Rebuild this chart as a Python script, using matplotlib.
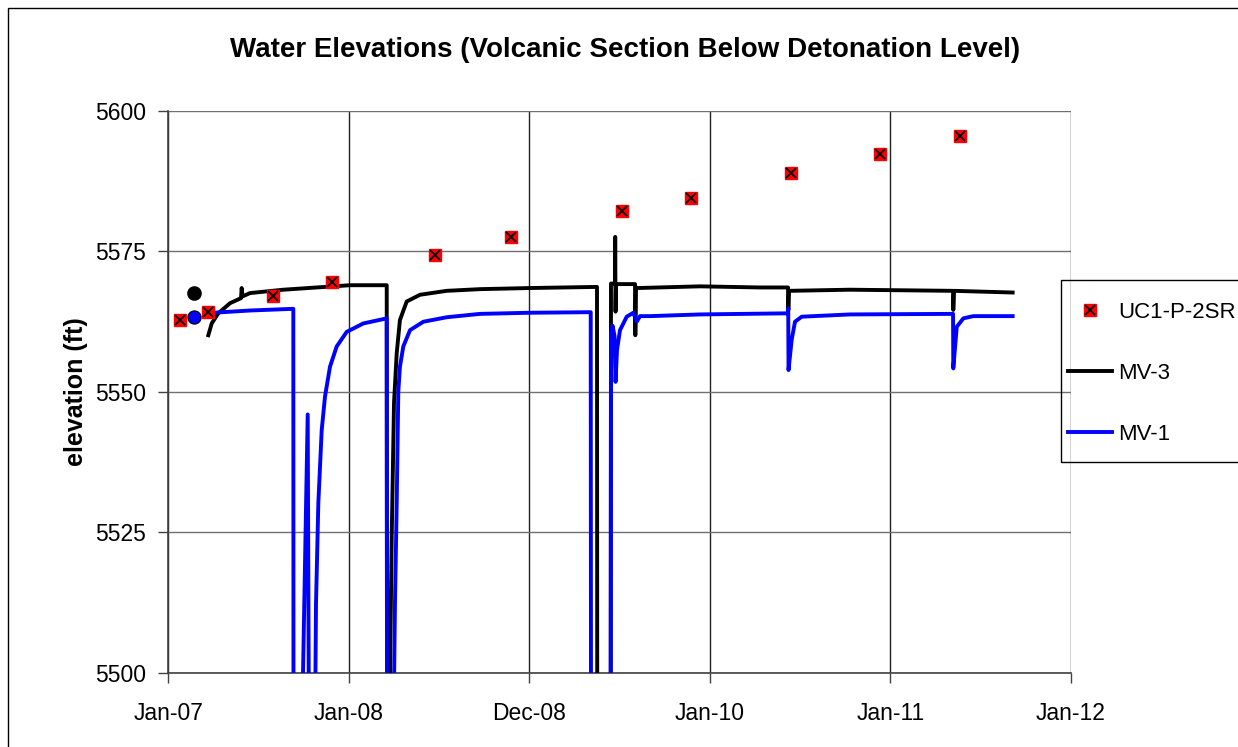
import matplotlib
matplotlib.use("Agg")
import numpy as np
import matplotlib.pyplot as plt
import matplotlib.dates as mdates
from datetime import datetime
from matplotlib.legend_handler import HandlerTuple
from matplotlib.patches import Rectangle

plt.rcParams['font.family'] = ['Liberation Sans', 'DejaVu Sans']

# x values are days after 1 Jan 2007
base = mdates.date2num(datetime(2007, 1, 1))

tick_days = [0, 365, 730, 1095, 1460, 1825]
tick_labels = ["Jan-07", "Jan-08", "Dec-08", "Jan-10", "Jan-11", "Jan-12"]

uc1_days = [23, 79, 212, 330, 539, 693, 917, 1057, 1259, 1439, 1601]
uc1_elev = [5562.8, 5564.3, 5567.1, 5569.5, 5574.4, 5577.6, 5582.2, 5584.5,
            5589.0, 5592.3, 5595.6]

# MV-3 transducer record (values under 5500 are off the axis)
mv3_days = [80.5, 87.4, 100.7, 124.4, 146.6, 148.0, 149.6, 164.8, 232.2, 299.7,
            367.0, 441.3, 441.9, 446.5, 451.4, 456.0, 461.5, 468.0, 481.7, 508.6,
            562.6, 630.0, 731.0, 866.5, 867.0, 894.2, 894.8, 902.9, 903.3, 904.0,
            905.0, 943.4, 944.0, 945.4, 949.4, 1074.8, 1196.0, 1252.8, 1253.4,
            1254.8, 1378.0, 1586.5, 1587.0, 1588.5, 1707.0]
mv3_elev = [5560.1, 5562.2, 5564.0, 5565.8, 5566.7, 5568.5, 5567.0, 5567.6, 5568.2, 5568.6,
            5569.0, 5569.0, 5490.0, 5490.0, 5524.3, 5548.0, 5556.9, 5562.8, 5566.1, 5567.3,
            5568.0, 5568.3, 5568.5, 5568.7, 5490.0, 5490.0, 5569.3, 5569.3, 5577.6, 5564.3,
            5569.2, 5569.2, 5560.1, 5568.6, 5568.5, 5568.8, 5568.6, 5568.6, 5564.6,
            5568.0, 5568.2, 5568.0, 5564.6, 5568.0, 5567.7]

# MV-1 transducer record
mv1_days = [77.9, 90.6, 164.8, 252.4, 252.8, 270.0, 281.5, 284.0, 296.3, 298.3,
            303.0, 309.8, 316.5, 326.6, 340.1, 360.4, 394.0, 441.3, 441.9, 455.0,
            458.0, 461.5, 464.7, 468.0, 474.8, 488.4, 515.3, 562.6, 630.0, 731.0,
            853.8, 854.4, 894.2, 894.8, 897.9, 901.9, 904.0, 907.0, 913.0, 926.6,
            940.0, 946.8, 953.5, 973.7, 1074.8, 1252.8, 1253.2, 1253.8, 1260.2, 1266.9,
            1280.5, 1378.0, 1586.5, 1587.0, 1594.0, 1607.3, 1627.5, 1707.0]
mv1_elev = [5564.2, 5564.1, 5564.5, 5564.8, 5490.0, 5490.0, 5546.0, 5490.0, 5490.0, 5512.4,
            5530.2, 5543.2, 5549.2, 5554.5, 5558.1, 5560.7, 5562.2, 5563.1, 5490.0, 5490.0,
            5512.5, 5530.2, 5550.0, 5554.5, 5558.1, 5561.0, 5562.5, 5563.3, 5563.9, 5564.1,
            5564.2, 5490.0, 5490.0, 5560.4, 5561.8, 5560.0, 5551.8, 5557.5, 5561.0, 5563.4,
            5564.1, 5562.5, 5563.5, 5563.5, 5563.8, 5564.0, 5564.9, 5553.9, 5559.3, 5562.5,
            5563.4, 5563.8, 5563.9, 5554.2, 5561.6, 5563.1, 5563.5, 5563.5]

# single early readings
mv3_pt_days, mv3_pt_elev = [52], [5567.7]
mv1_pt_days, mv1_pt_elev = [52], [5563.4]

fig = plt.figure(figsize=(12.38, 7.47), dpi=100)
ax = fig.add_axes([0.1361, 0.0991, 0.7290, 0.7523])

l3, = ax.plot(base + np.array(mv3_days), mv3_elev, color="black", lw=2.8, zorder=3)
l1, = ax.plot(base + np.array(mv1_days), mv1_elev, color="#0000ff", lw=2.8, zorder=3)
ax.plot(base + np.array(mv3_pt_days), mv3_pt_elev, "o", color="black", ms=9.5, zorder=4)
ax.plot(base + np.array(mv1_pt_days), mv1_pt_elev, "o", color="#0000ff", mec="black",
        mew=0.8, ms=9.5, zorder=4)
sq, = ax.plot(base + np.array(uc1_days), uc1_elev, "s", color="red", ms=8, mec="red",
              ls="none", zorder=5)
xm, = ax.plot(base + np.array(uc1_days), uc1_elev, "x", color="black", ms=7, mew=1.3,
              ls="none", zorder=6)

ax.set_xlim(base, base + 1825)
ax.set_ylim(5500, 5600)
ax.set_xticks([base + d for d in tick_days])
ax.set_xticklabels(tick_labels)
ax.set_yticks([5500, 5525, 5550, 5575, 5600])
ax.tick_params(labelsize=16.5, length=7, width=1, color="#404040", direction="out")
ax.tick_params(axis="x", pad=14)
ax.tick_params(axis="y", pad=9)

ax.grid(axis="y", color="#707070", lw=1)
ax.grid(axis="x", color="#202020", lw=1)
ax.set_axisbelow(True)
for s in ["top", "right"]:
    ax.spines[s].set_visible(False)
for s in ["left", "bottom"]:
    ax.spines[s].set_color("#404040")
    ax.spines[s].set_linewidth(1.2)

ax.set_ylabel("elevation (ft)", fontsize=18, fontweight="bold", labelpad=5)
fig.text(0.505, 0.933, "Water Elevations (Volcanic Section Below Detonation Level)",
         ha="center", va="center", fontsize=20, fontweight="bold")

# legend frame runs off the right edge, as in the original
fig.patches.append(Rectangle((1061 / 1238, 1 - 462 / 747), 0.3, 182 / 747,
                             transform=fig.transFigure, fill=False, edgecolor="black",
                             lw=1, zorder=5))
leg = fig.legend([(sq, xm), l3, l1], ["UC1-P-2SR", "MV-3", "MV-1"],
                 handler_map={tuple: HandlerTuple(ndivide=1)}, numpoints=1,
                 loc="upper left", bbox_to_anchor=(1068 / 1238, 1 - 302 / 747), fontsize=16,
                 frameon=False, handlelength=2.0, handletextpad=0.25, labelspacing=1.8,
                 borderpad=0, borderaxespad=0)

fig.patches.append(Rectangle((8 / 1238, -0.1), 1.2, 1.1 - 8 / 747, transform=fig.transFigure,
                             fill=False, edgecolor="black", lw=1))

fig.savefig("out.png", dpi=100)
